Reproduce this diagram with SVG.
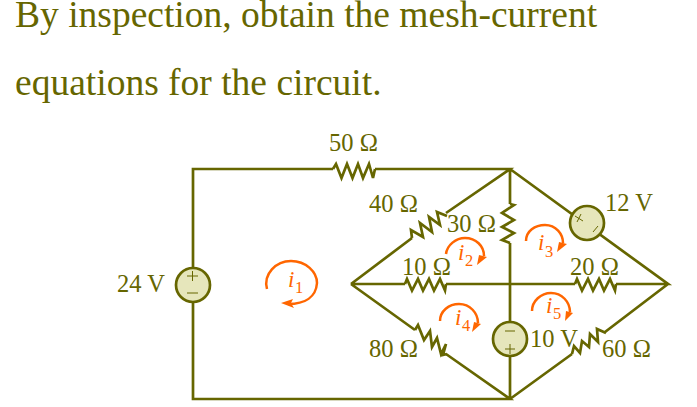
<svg xmlns="http://www.w3.org/2000/svg" width="697" height="407" viewBox="0 0 697 407">
<defs><path id="res" d="M0 0L2 -5L7 6.5L13 -5L18 6.5L24 -5L29 6.5L35 -5L40 6.5L41 0"/></defs>
<style>
text{font-family:"Liberation Serif","Times New Roman",serif;fill:#666600}
.t{font-size:37.5px}
.l{font-size:24.5px}
.w{fill:none;stroke:#666600;stroke-width:2.7}
.s{fill:#e6e6bb;stroke:#666600;stroke-width:2.7}
.m{fill:none;stroke:#666600;stroke-width:1}
.c{fill:none;stroke:#ff6600;stroke-width:2.5}
.a{fill:#ff6600}
.i{font-size:23px;font-style:italic;fill:#ff6600}
.n{font-size:16.5px;fill:#ff6600}
</style>
<rect width="697" height="407" fill="#fff"/>
<g id="title">
<text class="t" x="15" y="27">By inspection, obtain the mesh-current</text>
<text class="t" x="15" y="95">equations for the circuit.</text>
</g>
<g id="connectors">
<path class="w" d="M193 268V169H333M375 169H510L446 213M412 238L351 284M510 169V204M510 243V322M510 356V399M193 302V399H510L446 354M415 330L351 284M351 284H405M446 284H575M616 284H668L510 169M510 399L572 354M605 332L668 284"/>
</g>
<g id="r50"><path class="w" d="M333 169L336 164L341.500 178L347 164L352.500 178L358 164L363 178L369 164L373 178L375 169"/><text class="l" x="329" y="151">50 Ω</text></g>
<g id="r40"><path class="w" d="M412 238L411 230L423 237L420 223L432 232L429 217L440 225L437 212L447 216"/><text class="l" x="369" y="212">40 Ω</text></g>
<g id="r30"><path class="w" d="M510 204L514 205L502 213L514 220L502 227L514 233L502 240L510 243"/><text class="l" x="447" y="232">30 Ω</text></g>
<g id="r10"><use href="#res" class="w" x="405" y="284"/><text class="l" x="402" y="275">10 Ω</text></g>
<g id="r20"><use href="#res" class="w" x="575" y="284"/><text class="l" x="570" y="275">20 Ω</text></g>
<g id="r80"><path class="w" d="M415 330L418 325L424 340L430 331L432 347L437 338L441 354L446 344L443 355L447 354"/><text class="l" x="369" y="357">80 Ω</text></g>
<g id="r60"><path class="w" d="M572 354L574 346L580 353L582 341L589 347L590 334L598 342L597 329L606 333"/><text class="l" x="602" y="357">60 Ω</text></g>
<g id="v24"><circle class="s" cx="193" cy="285" r="17"/><path class="m" d="M187 276H198M192.500 271V281M187 293H198"/><text class="l" x="117" y="292">24 V</text></g>
<g id="v12"><circle class="s" cx="587" cy="223" r="17"/><path class="m" d="M575 216L583 221M577 222L581 214M593 232L598 226"/><text class="l" x="605" y="211">12 V</text></g>
<g id="v10"><circle class="s" cx="510" cy="339" r="17"/><path class="m" d="M505 331H515M505 349H515M510 344V354"/><text class="l" x="530" y="347">10 V</text></g>
<g id="i1"><path class="c" d="M267 289C263 274 276 261 291 261C306 261 317 272 317 283C316 297 305 304 288 304"/><path class="a" d="M281 303L293 299L291 303L294 308Z"/><text class="i" x="288" y="287">i</text><text class="n" x="295" y="293">1</text></g>
<g id="i2"><path class="c" d="M446 254C447 245 456 238 465 238C476 238 484 246 484 256"/><path class="a" d="M477 265L479 255L487 257Z"/><text class="i" x="458" y="260">i</text><text class="n" x="465" y="266">2</text></g>
<g id="i3"><path class="c" d="M526 241C526 231 535 225 545 225C556 225 563 234 563 243"/><path class="a" d="M557 252L559 242L567 244Z"/><text class="i" x="538" y="250">i</text><text class="n" x="545" y="257">3</text></g>
<g id="i4"><path class="c" d="M440 321C440 311 449 304 459 304C470 304 478 313 478 323"/><path class="a" d="M472 332L474 322L481 324Z"/><text class="i" x="455" y="325">i</text><text class="n" x="462" y="331">4</text></g>
<g id="i5"><path class="c" d="M532 311C532 301 541 293 551 293C562 293 570 302 570 312"/><path class="a" d="M565 321L566 311L573 313Z"/><text class="i" x="546" y="313">i</text><text class="n" x="553" y="319">5</text></g>
</svg>
